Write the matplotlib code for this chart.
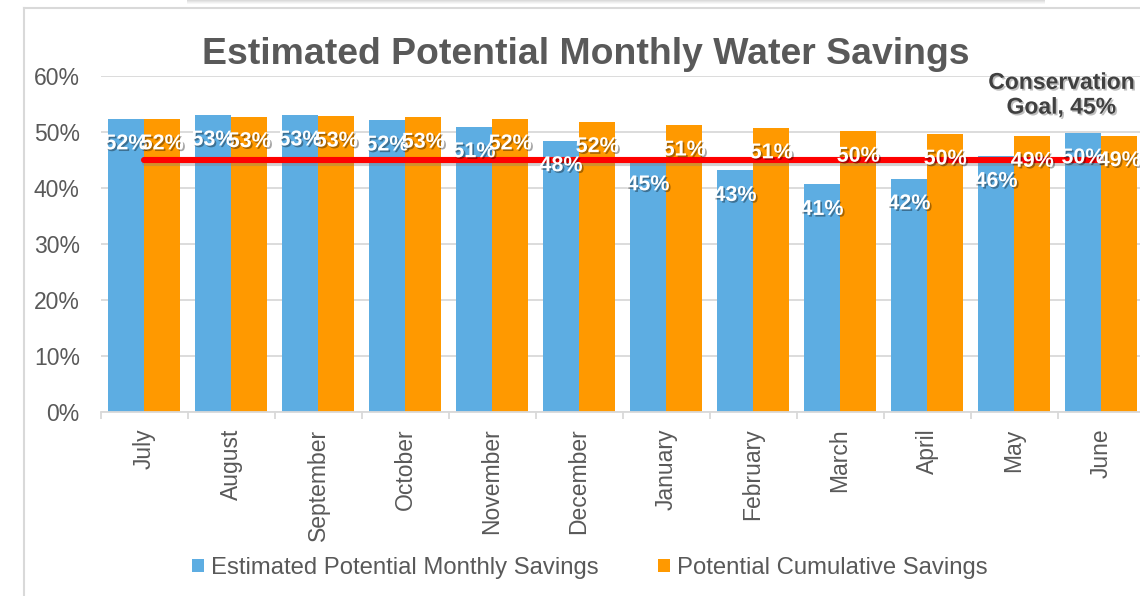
import matplotlib
matplotlib.use("Agg")
import matplotlib.pyplot as plt
import matplotlib.patheffects as pe
from matplotlib.patches import Patch, Rectangle
from matplotlib.lines import Line2D
import numpy as np

plt.rcParams['font.family'] = ['Liberation Sans', 'DejaVu Sans']

months = ["July", "August", "September", "October", "November", "December",
          "January", "February", "March", "April", "May", "June"]
monthly_savings = [52.3, 53.0, 53.0, 52.1, 50.9, 48.4, 45.0, 43.1, 40.6, 41.6, 45.6, 49.8]
cumulative_savings = [52.3, 52.7, 52.8, 52.6, 52.3, 51.8, 51.2, 50.7, 50.1, 49.6, 49.2, 49.3]
goal = 45.0
series_names = ["Estimated Potential Monthly Savings", "Potential Cumulative Savings"]
title = "Estimated Potential Monthly Water Savings"
goal_label = "Conservation\nGoal, 45%"

BLUE = "#5DADE2"
ORANGE = "#FF9900"
GRAY_TXT = "#595959"
GRID = "#D9D9D9"

W, H = 1140, 596
fig = plt.figure(figsize=(W / 100, H / 100), dpi=100)
ax = fig.add_axes([100.6 / W, 184 / H, 1044 / W, 336.3 / H])

x = np.arange(len(months))
bw = 0.417
b1 = ax.bar(x - bw / 2, np.array(monthly_savings) / 100, bw, color=BLUE, zorder=2)
b2 = ax.bar(x + bw / 2, np.array(cumulative_savings) / 100, bw, color=ORANGE, zorder=2)

# Goal line with a soft shadow
ax.plot([x[0], x[-1]], [goal / 100, goal / 100], color="#FF0000", lw=4.4,
        solid_capstyle="round", zorder=3,
        path_effects=[pe.SimpleLineShadow(offset=(0.5, -2.5), shadow_color="gray", alpha=0.35),
                      pe.Normal()])

label_fx = [pe.withSimplePatchShadow(offset=(1.2, -1.2), shadow_rgbFace="black", alpha=0.35)]
for bars, vals in ((b1, monthly_savings), (b2, cumulative_savings)):
    for rect, v in zip(bars, vals):
        ax.annotate(f"{round(v)}%", (rect.get_x() + rect.get_width() / 2, v / 100),
                    xytext=(0, -18), textcoords="offset points", ha="center", va="center",
                    fontsize=15.5, fontweight="bold", color="white", zorder=4,
                    path_effects=label_fx)

ax.text(10.54, 0.566, goal_label, ha="center", va="center", fontsize=16.5,
        fontweight="bold", color="#404040", linespacing=1.1, zorder=5,
        path_effects=[pe.withSimplePatchShadow(offset=(1.2, -1.2), shadow_rgbFace="black", alpha=0.25)])

ax.set_ylim(0, 0.6)
ax.set_xlim(-0.5, len(months) - 0.5)
ax.set_yticks(np.arange(0, 0.61, 0.1))
ax.set_yticklabels([f"{int(round(t * 100))}%" for t in np.arange(0, 0.61, 0.1)])
ax.yaxis.grid(True, color=GRID, lw=1.3, zorder=0)
ax.set_axisbelow(True)
ax.tick_params(axis="y", length=0, pad=15, labelsize=16.5, labelcolor=GRAY_TXT)

ax.set_xticks(x)
ax.set_xticklabels(months, rotation=90, va="top", ha="center")
ax.set_xticks(np.arange(-0.5, len(months)), minor=True)
ax.tick_params(axis="x", which="major", length=0, pad=12, labelsize=16.5, labelcolor=GRAY_TXT)
ax.tick_params(axis="x", which="minor", length=5, width=1.3, color=GRID, direction="out")

for s in ("top", "right", "left"):
    ax.spines[s].set_visible(False)
ax.spines["bottom"].set_color(GRID)
ax.spines["bottom"].set_linewidth(1.3)

fig.text(586 / W, 1 - 54 / H, title, ha="center", va="center", fontsize=26.9,
         fontweight="bold", color=GRAY_TXT)

handles = [Patch(facecolor=BLUE, edgecolor="none"), Patch(facecolor=ORANGE, edgecolor="none")]
fig.legend(handles, series_names, loc="center", bbox_to_anchor=(590 / W, 1 - 568 / H),
           ncol=2, frameon=False, fontsize=17.2, labelcolor=GRAY_TXT,
           handlelength=0.5, handleheight=0.5, handletextpad=0.3, columnspacing=2.5)

# Chart area frame
fig.add_artist(Line2D([24 / W, 24 / W], [0, 1 - 8 / H], color=GRID, lw=1.5))
fig.add_artist(Line2D([24 / W, 1], [1 - 8 / H, 1 - 8 / H], color=GRID, lw=1.5))

# Soft shadow of the shape above the chart
for i, a in enumerate([0.35, 0.25, 0.15, 0.07]):
    fig.add_artist(Rectangle((187 / W, 1 - (i + 1) / H), (1045 - 187) / W, 1 / H,
                             transform=fig.transFigure, facecolor="#9a9a9a",
                             edgecolor="none", alpha=a))

fig.savefig("out.png", dpi=100)
